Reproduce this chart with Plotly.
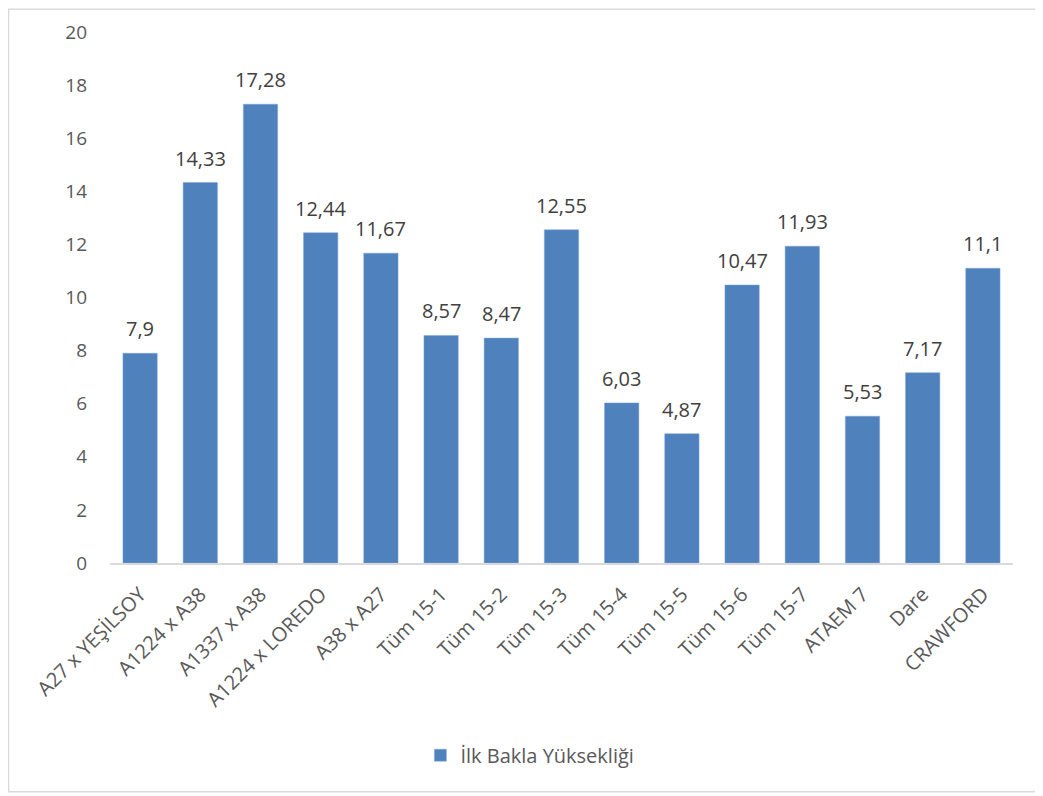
import plotly.graph_objects as go

categories = ["A27 x YEŞİLSOY", "A1224 x A38", "A1337 x A38", "A1224 x LOREDO", "A38 x A27",
              "Tüm 15-1", "Tüm 15-2", "Tüm 15-3", "Tüm 15-4", "Tüm 15-5", "Tüm 15-6",
              "Tüm 15-7", "ATAEM 7", "Dare", "CRAWFORD"]
values = [7.9, 14.33, 17.28, 12.44, 11.67, 8.57, 8.47, 12.55, 6.03, 4.87, 10.47, 11.93, 5.53, 7.17, 11.1]
labels = [str(v).replace(".", ",") for v in values]
series_name = "İlk Bakla Yüksekliği"
y_ticks = list(range(0, 21, 2))

font_family = "Open Sans, Liberation Sans, sans-serif"
text_color = "#595959"

fig = go.Figure(go.Bar(
    x=categories, y=values, name=series_name,
    marker=dict(color="#4F81BD", line=dict(color="#7FA7DA", width=0.5)),
    showlegend=True,
))

annotations = [dict(x=c, y=v, text=t, xref="x", yref="y", showarrow=False,
                    yanchor="bottom", yshift=9,
                    font=dict(size=20, color="#404040", family=font_family))
               for c, v, t in zip(categories, values, labels)]

fig.update_layout(
    width=1035, height=788,
    margin=dict(l=102, r=30, t=24, b=233),
    paper_bgcolor="white", plot_bgcolor="white",
    bargap=0.43,
    font=dict(family=font_family, color=text_color),
    xaxis=dict(tickangle=-45, tickfont=dict(size=20, color=text_color),
               showline=True, linecolor="#D9D9D9", linewidth=1.5,
               showgrid=False, ticks="", ticklabelstandoff=10, automargin=False),
    yaxis=dict(range=[0, 20], tickvals=y_ticks, showgrid=False, zeroline=False,
               tickfont=dict(size=19, color=text_color), ticks="", ticklabelstandoff=22,
               automargin=False),
    legend=dict(orientation="h", x=0.465, xanchor="center", y=-0.362, yanchor="middle",
                font=dict(size=20, color=text_color)),
    annotations=annotations,
    shapes=[dict(type="rect", xref="paper", yref="paper", x0=-0.1124, x1=1.031, y0=-0.431, y1=1.043,
                 line=dict(color="#D9D9D9", width=1.5), fillcolor="rgba(0,0,0,0)")],
)

fig.write_html("out.html")
